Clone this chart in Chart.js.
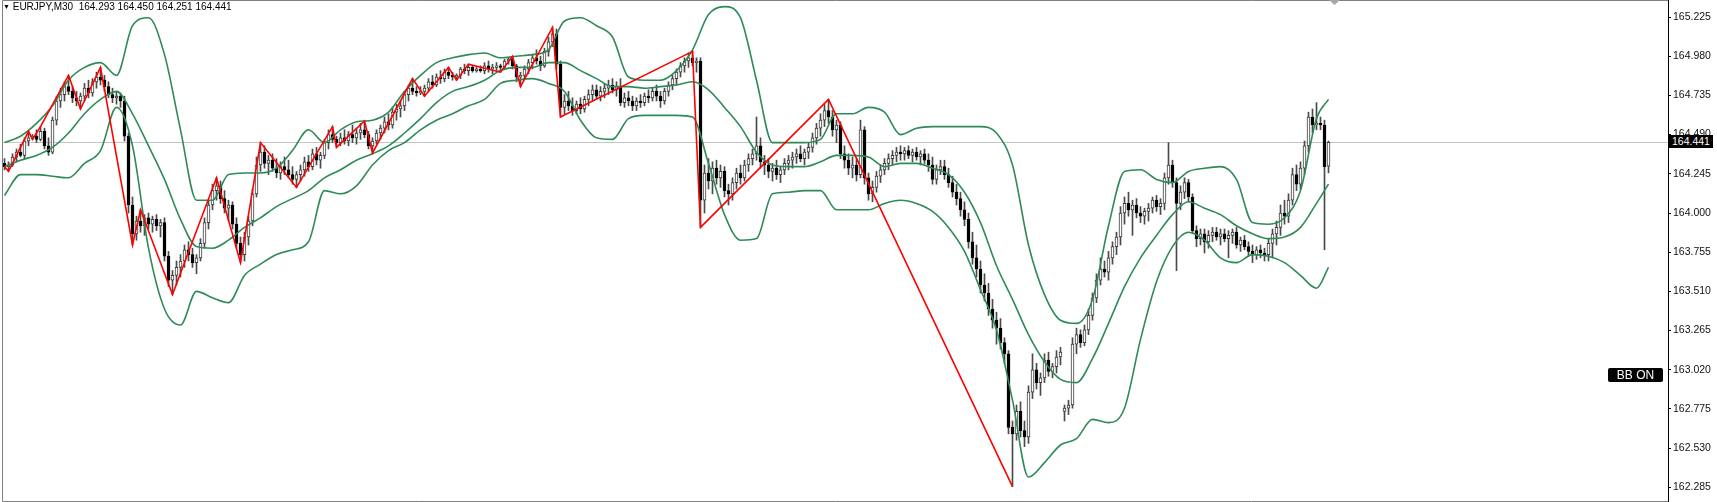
<!DOCTYPE html>
<html>
<head>
<meta charset="utf-8">
<title>EURJPY,M30</title>
<script src="https://cdn.jsdelivr.net/npm/chart.js@4.4.1/dist/chart.umd.min.js"></script>
<style>
  html, body { margin: 0; padding: 0; background: #fff; }
  #wrap { position: relative; width: 1717px; height: 502px; overflow: hidden; }
  #chart { display: block; }
  .title { position: absolute; left: 3px; top: 1px; font: 10px "Liberation Sans", Arial, sans-serif; color: #000; white-space: pre; }
  .title .tri { font-size: 7px; position: relative; top: -1px; }
  .tag { position: absolute; background: #000; color: #fff; font-family: "Liberation Sans", Arial, sans-serif; white-space: pre; }
  #bid { left: 1669px; top: 135px; width: 41px; height: 13px; line-height: 13px; padding-left: 3px; font-size: 10.5px; }
  #bb { left: 1608px; top: 368px; width: 55px; height: 14px; line-height: 14px; text-align: center; font-size: 12px; border-radius: 2px; }
</style>
</head>
<body>
<div id="wrap">
  <canvas id="chart" width="1717" height="502"></canvas>
  <div class="title"><span class="tri">▼</span> EURJPY,M30  164.293 164.450 164.251 164.441</div>
  <div id="bid" class="tag">164.441</div>
  <div id="bb" class="tag">BB ON</div>
</div>
<script>
const yTickLabels = ["165.225", "164.980", "164.735", "164.490", "164.245", "164.000", "163.755",
  "163.510", "163.265", "163.020", "162.775", "162.530", "162.285"];
const BID = 164.441;

// candles, one per M30 bar, oldest first
const opens = [
  164.31,164.29,164.30,164.35,164.38,164.36,164.45,164.47,164.48,164.46,
  164.51,164.42,164.38,164.58,164.70,164.74,164.79,164.76,164.72,164.70,
  164.73,164.78,164.75,164.82,164.85,164.83,164.79,164.74,164.72,164.73,
  164.70,164.48,164.05,163.87,163.95,163.92,163.97,163.93,163.96,163.92,
  163.94,163.73,163.58,163.61,163.66,163.70,163.77,163.74,163.69,163.72,
  163.81,163.94,164.05,164.14,164.17,164.09,164.03,164.05,163.93,163.81,
  163.74,163.85,163.95,164.12,164.30,164.38,164.31,164.33,164.28,164.25,
  164.29,164.27,164.24,164.21,164.24,164.27,164.32,164.29,164.37,164.33,
  164.36,164.44,164.49,164.46,164.44,164.47,164.45,164.49,164.47,164.50,
  164.52,164.49,164.42,164.45,164.50,164.53,164.57,164.55,164.63,164.65,
  164.67,164.74,164.78,164.76,164.75,164.76,164.78,164.82,164.80,164.85,
  164.84,164.88,164.86,164.85,164.86,164.90,164.89,164.91,164.89,164.90,
  164.89,164.92,164.90,164.91,164.92,164.91,164.95,164.96,164.92,164.85,
  164.86,164.90,164.94,164.97,164.95,164.92,165.01,165.07,165.12,164.93,
  164.66,164.70,164.67,164.64,164.68,164.65,164.71,164.74,164.77,164.73,
  164.76,164.78,164.80,164.77,164.79,164.69,164.72,164.70,164.67,164.70,
  164.69,164.73,164.72,164.76,164.73,164.70,164.76,164.80,164.84,164.88,
  164.92,164.95,164.97,164.94,164.95,164.08,164.25,164.20,164.28,164.22,
  164.26,164.14,164.12,164.19,164.25,164.22,164.30,164.34,164.37,164.42,
  164.32,164.30,164.26,164.28,164.24,164.27,164.31,164.33,164.35,164.37,
  164.34,164.38,164.41,164.47,164.53,164.58,164.64,164.60,164.52,164.55,
  164.37,164.33,164.28,164.30,164.24,164.52,164.22,164.12,164.16,164.23,
  164.27,164.31,164.34,164.36,164.38,164.37,164.39,164.36,164.38,164.35,
  164.37,164.33,164.30,164.21,164.27,164.29,164.24,164.19,164.13,164.09,
  164.02,163.96,163.82,163.72,163.65,163.55,163.50,163.40,163.33,163.28,
  163.19,163.12,162.66,162.62,162.76,162.64,162.60,162.88,163.02,162.94,
  162.97,163.08,163.01,163.04,163.10,162.76,162.78,162.80,163.18,163.24,
  163.19,163.27,163.36,163.47,163.58,163.65,163.63,163.72,163.79,163.85,
  164.00,164.06,164.02,164.05,164.00,163.98,164.01,164.03,164.08,164.04,
  164.06,164.22,164.30,164.19,164.06,164.13,164.19,164.10,163.89,163.84,
  163.87,163.82,163.86,163.88,163.85,163.87,163.84,163.86,163.88,163.80,
  163.83,163.79,163.76,163.74,163.77,163.75,163.74,163.81,163.87,163.91,
  164.00,163.98,164.08,164.24,164.18,164.28,164.42,164.60,164.55,164.56,
  164.55,164.293
];
const highs = [
  164.34,164.32,164.37,164.40,164.43,164.47,164.51,164.49,164.52,164.54,
  164.53,164.47,164.60,164.73,164.78,164.82,164.86,164.79,164.76,164.75,
  164.81,164.83,164.84,164.88,164.91,164.86,164.82,164.78,164.76,164.75,
  164.73,164.50,164.10,163.98,164.02,163.99,164.00,163.98,163.99,163.96,
  163.97,163.76,163.64,163.70,163.74,163.80,163.82,163.78,163.74,163.84,
  163.97,164.08,164.18,164.22,164.20,164.14,164.08,164.07,163.97,163.85,
  163.88,163.98,164.15,164.35,164.44,164.42,164.36,164.37,164.34,164.32,
  164.35,164.33,164.29,164.26,164.30,164.35,164.36,164.40,164.41,164.38,
  164.46,164.52,164.54,164.48,164.50,164.52,164.51,164.55,164.53,164.56,
  164.575,164.51,164.47,164.52,164.55,164.60,164.62,164.66,164.68,164.70,
  164.76,164.80,164.84,164.79,164.79,164.80,164.84,164.86,164.87,164.89,
  164.90,164.91,164.88,164.87,164.91,164.93,164.93,164.92,164.91,164.92,
  164.94,164.95,164.93,164.94,164.93,164.96,164.97,164.98,164.93,164.88,
  164.92,164.96,164.99,165.02,164.98,165.03,165.10,165.16,165.15,164.95,
  164.74,164.76,164.72,164.70,164.72,164.73,164.77,164.80,164.80,164.79,
  164.81,164.83,164.84,164.82,164.84,164.75,164.76,164.73,164.72,164.74,
  164.75,164.77,164.78,164.80,164.76,164.78,164.82,164.86,164.90,164.94,
  164.97,165.00,165.01,164.97,164.97,164.30,164.34,164.32,164.33,164.30,
  164.29,164.18,164.22,164.28,164.30,164.33,164.37,164.40,164.60,164.47,
  164.36,164.34,164.31,164.33,164.29,164.34,164.36,164.38,164.40,164.42,
  164.40,164.44,164.50,164.56,164.62,164.68,164.71,164.64,164.58,164.57,
  164.42,164.37,164.35,164.34,164.58,164.54,164.25,164.20,164.26,164.30,
  164.34,164.37,164.39,164.41,164.42,164.41,164.42,164.40,164.41,164.39,
  164.40,164.37,164.35,164.30,164.33,164.33,164.28,164.23,164.18,164.13,
  164.07,164.00,163.88,163.80,163.70,163.62,163.56,163.46,163.38,163.34,
  163.22,163.14,162.70,162.80,162.82,162.70,162.92,163.12,163.06,163.00,
  163.12,163.13,163.06,163.14,163.16,162.80,162.83,163.22,163.28,163.27,
  163.30,163.40,163.50,163.62,163.72,163.70,163.76,163.82,163.88,164.04,
  164.10,164.13,164.08,164.09,164.04,164.03,164.06,164.10,164.11,164.09,
  164.25,164.44,164.33,164.22,164.17,164.22,164.21,164.12,163.92,163.90,
  163.90,163.89,163.91,163.91,163.90,163.90,163.89,163.90,163.91,163.85,
  163.86,163.82,163.80,163.79,163.80,163.78,163.84,163.90,163.95,164.05,
  164.08,164.12,164.28,164.30,164.32,164.45,164.63,164.65,164.69,164.60,
  164.58,164.450
];
const lows = [
  164.27,164.26,164.29,164.32,164.35,164.34,164.42,164.46,164.44,164.45,
  164.40,164.36,164.37,164.55,164.66,164.70,164.74,164.69,164.67,164.65,
  164.70,164.72,164.73,164.78,164.80,164.76,164.72,164.69,164.68,164.66,
  164.45,164.00,163.80,163.83,163.88,163.86,163.90,163.88,163.89,163.85,
  163.70,163.54,163.49,163.55,163.60,163.66,163.70,163.66,163.62,163.70,
  163.78,163.90,164.02,164.08,164.06,164.00,163.95,163.90,163.78,163.69,
  163.70,163.80,163.92,164.10,164.26,164.28,164.24,164.26,164.22,164.21,
  164.24,164.22,164.18,164.16,164.20,164.23,164.26,164.27,164.30,164.28,
  164.34,164.40,164.44,164.41,164.42,164.43,164.42,164.44,164.43,164.46,
  164.47,164.40,164.375,164.43,164.46,164.50,164.52,164.53,164.58,164.60,
  164.64,164.70,164.74,164.73,164.74,164.73,164.76,164.78,164.79,164.81,
  164.82,164.84,164.83,164.83,164.84,164.87,164.86,164.88,164.88,164.88,
  164.87,164.88,164.87,164.89,164.88,164.90,164.93,164.90,164.82,164.79,
  164.84,164.87,164.90,164.93,164.89,164.91,164.98,165.04,164.90,164.60,
  164.62,164.64,164.61,164.62,164.62,164.63,164.67,164.70,164.71,164.70,
  164.72,164.74,164.75,164.73,164.67,164.66,164.67,164.64,164.64,164.66,
  164.67,164.69,164.70,164.70,164.66,164.68,164.73,164.77,164.80,164.85,
  164.88,164.91,164.92,164.88,163.91,164.00,164.15,164.12,164.18,164.16,
  164.10,164.05,164.08,164.15,164.18,164.20,164.26,164.30,164.33,164.28,
  164.24,164.22,164.20,164.21,164.19,164.24,164.27,164.28,164.31,164.32,
  164.30,164.34,164.38,164.43,164.48,164.54,164.56,164.48,164.44,164.34,
  164.28,164.24,164.22,164.20,164.22,164.18,164.08,164.07,164.13,164.19,
  164.24,164.27,164.30,164.32,164.33,164.33,164.34,164.32,164.33,164.30,
  164.31,164.26,164.18,164.18,164.24,164.21,164.16,164.10,164.05,163.98,
  163.92,163.78,163.68,163.60,163.50,163.45,163.36,163.28,163.18,163.15,
  163.06,162.62,162.29,162.58,162.60,162.54,162.56,162.84,162.90,162.86,
  162.94,162.98,162.97,163.00,163.05,162.70,162.74,162.78,163.12,163.16,
  163.17,163.24,163.33,163.44,163.55,163.60,163.58,163.68,163.74,163.80,
  163.93,163.98,163.86,163.97,163.94,163.93,163.95,164.00,164.01,163.99,
  164.02,164.18,164.16,163.64,164.02,164.09,164.07,163.87,163.79,163.80,
  163.75,163.78,163.82,163.83,163.80,163.82,163.72,163.81,163.78,163.76,
  163.77,163.73,163.69,163.71,163.72,163.70,163.70,163.72,163.80,163.86,
  163.93,163.94,164.05,164.14,164.15,164.24,164.38,164.50,164.52,164.52,
  163.77,164.251
];
const closes = [
  164.29,164.30,164.35,164.38,164.36,164.45,164.47,164.48,164.46,164.51,
  164.42,164.38,164.58,164.70,164.74,164.79,164.76,164.72,164.70,164.73,
  164.78,164.75,164.82,164.85,164.83,164.79,164.74,164.72,164.73,164.70,
  164.48,164.05,163.87,163.95,163.92,163.97,163.93,163.96,163.92,163.94,
  163.73,163.58,163.61,163.66,163.70,163.77,163.74,163.69,163.72,163.81,
  163.94,164.05,164.14,164.17,164.09,164.03,164.05,163.93,163.81,163.74,
  163.85,163.95,164.12,164.30,164.38,164.31,164.33,164.28,164.25,164.29,
  164.27,164.24,164.21,164.24,164.27,164.32,164.29,164.37,164.33,164.36,
  164.44,164.49,164.46,164.44,164.47,164.45,164.49,164.47,164.50,164.52,
  164.49,164.42,164.45,164.50,164.53,164.57,164.55,164.63,164.65,164.67,
  164.74,164.78,164.76,164.75,164.76,164.78,164.82,164.80,164.85,164.84,
  164.88,164.86,164.85,164.86,164.90,164.89,164.91,164.89,164.90,164.89,
  164.92,164.90,164.91,164.92,164.91,164.95,164.96,164.92,164.85,164.86,
  164.90,164.94,164.97,164.95,164.92,165.01,165.07,165.12,164.93,164.66,
  164.70,164.67,164.64,164.68,164.65,164.71,164.74,164.77,164.73,164.76,
  164.78,164.80,164.77,164.79,164.69,164.72,164.70,164.67,164.70,164.69,
  164.73,164.72,164.76,164.73,164.70,164.76,164.80,164.84,164.88,164.92,
  164.95,164.97,164.94,164.95,164.08,164.25,164.20,164.28,164.22,164.26,
  164.14,164.12,164.19,164.25,164.22,164.30,164.34,164.37,164.42,164.32,
  164.30,164.26,164.28,164.24,164.27,164.31,164.33,164.35,164.37,164.34,
  164.38,164.41,164.47,164.53,164.58,164.64,164.60,164.52,164.55,164.37,
  164.33,164.28,164.30,164.24,164.52,164.22,164.12,164.16,164.23,164.27,
  164.31,164.34,164.36,164.38,164.37,164.39,164.36,164.38,164.35,164.37,
  164.33,164.30,164.21,164.27,164.29,164.24,164.19,164.13,164.09,164.02,
  163.96,163.82,163.72,163.65,163.55,163.50,163.40,163.33,163.28,163.19,
  163.12,162.66,162.62,162.76,162.64,162.60,162.88,163.02,162.94,162.97,
  163.08,163.01,163.04,163.10,163.13,162.78,162.80,163.18,163.24,163.19,
  163.27,163.36,163.47,163.58,163.65,163.63,163.72,163.79,163.85,164.00,
  164.06,164.02,164.05,164.00,163.98,164.01,164.03,164.08,164.04,164.06,
  164.22,164.30,164.19,164.06,164.13,164.19,164.10,163.89,163.84,163.87,
  163.82,163.86,163.88,163.85,163.87,163.84,163.86,163.88,163.80,163.83,
  163.79,163.76,163.74,163.77,163.75,163.74,163.81,163.87,163.91,164.00,
  163.98,164.08,164.24,164.18,164.28,164.42,164.60,164.55,164.56,164.55,
  164.29,164.441
];

// Bollinger bands, read every 4th bar
const bandIdx = [
  0,4,8,12,16,20,24,28,32,36,40,44,48,52,56,60,64,68,72,76,80,84,88,92,96,100,
  104,108,112,116,120,124,128,132,136,140,144,148,152,156,160,164,168,172,176,180,
  184,188,192,196,200,204,208,212,216,220,224,228,232,236,240,244,248,252,256,260,
  264,268,272,276,280,284,288,292,296,300,304,308,312,316,320,324,328,331
];
const bandUpper = [
  164.44,164.48,164.56,164.67,164.83,164.91,164.94,164.86,165.17,165.22,
  164.99,164.52,164.08,164.08,164.24,164.25,164.25,164.28,164.39,164.52,
  164.44,164.52,164.57,164.58,164.63,164.76,164.86,164.94,164.97,164.99,
  165.00,164.97,164.98,164.99,165.02,165.20,165.22,165.17,165.10,164.85,
  164.83,164.83,164.89,165.02,165.24,165.29,165.22,164.83,164.44,164.44,
  164.44,164.46,164.62,164.62,164.66,164.63,164.49,164.53,164.54,164.54,
  164.54,164.54,164.50,164.30,163.80,163.49,163.33,163.31,163.46,163.92,
  164.26,164.27,164.21,164.19,164.26,164.28,164.29,164.21,163.94,163.93,
  163.97,164.14,164.59,164.71
];
const bandMiddle = [
  164.29,164.33,164.36,164.41,164.50,164.62,164.71,164.76,164.62,164.42,
  164.21,163.96,163.79,163.78,163.83,163.91,163.97,164.04,164.09,164.14,
  164.22,164.27,164.33,164.37,164.42,164.50,164.59,164.69,164.76,164.79,
  164.83,164.89,164.91,164.91,164.94,164.94,164.89,164.84,164.79,164.79,
  164.78,164.79,164.80,164.82,164.77,164.66,164.54,164.38,164.30,164.29,
  164.29,164.32,164.36,164.36,164.35,164.29,164.31,164.31,164.28,164.24,
  164.13,163.94,163.67,163.46,163.24,163.07,162.96,162.94,163.09,163.31,
  163.54,163.72,163.86,163.99,164.07,164.03,163.99,163.92,163.87,163.84,
  163.85,163.91,164.06,164.18
];
const bandLower = [
  164.11,164.24,164.24,164.23,164.22,164.31,164.39,164.66,164.42,163.78,
  163.40,163.30,163.51,163.47,163.44,163.61,163.68,163.74,163.77,163.82,
  164.14,164.12,164.17,164.30,164.39,164.44,164.52,164.58,164.62,164.67,
  164.71,164.81,164.83,164.84,164.81,164.76,164.58,164.47,164.46,164.59,
  164.61,164.61,164.61,164.60,164.31,163.99,163.83,163.84,164.12,164.13,
  164.14,164.14,164.02,164.02,164.02,164.06,164.08,164.06,164.01,163.91,
  163.76,163.52,163.27,162.83,162.35,162.44,162.55,162.59,162.71,162.69,
  162.78,163.21,163.57,163.79,163.88,163.83,163.72,163.69,163.74,163.73,
  163.69,163.61,163.53,163.66
];

// ZigZag swing points
const zigIdx = [0,1,6,7,9,16,19,24,32,34,42,53,59,64,73,82,83,90,92,99,
  102,105,111,113,116,124,127,129,137,139,172,174,206,252];
const zigPrice = [164.29,164.26,164.51,164.46,164.54,164.86,164.65,164.91,163.80,164.02,
  163.49,164.22,163.69,164.44,164.16,164.54,164.41,164.575,164.375,164.70,
  164.84,164.73,164.91,164.83,164.93,164.88,164.98,164.79,165.16,164.60,
  165.01,163.91,164.71,162.29];

const Y_MIN = 162.19375;
const Y_MAX = 165.33125;
const X_MIN = -0.625;
const X_MAX = 415.875;

const BAND_GREEN = "#2e8b57";

function points(idx, vals) {
  return idx.map((x, k) => ({ x, y: vals[k] }));
}

function isBull(i) {
  return closes[i] >= opens[i];
}

const frame = {
  id: "frame",
  beforeDatasetsDraw(chart) {
    const { ctx, chartArea: a } = chart;
    const py = Math.round(chart.scales.y.getPixelForValue(BID)) + 0.5;
    ctx.save();
    ctx.strokeStyle = "#c4c4c4";
    ctx.lineWidth = 1;
    ctx.beginPath();
    ctx.moveTo(a.left, py);
    ctx.lineTo(a.right, py);
    ctx.stroke();
    ctx.restore();
  },
  afterDraw(chart) {
    const { ctx, chartArea: a } = chart;
    ctx.save();
    ctx.strokeStyle = "#808080";
    ctx.lineWidth = 1;
    ctx.beginPath();
    ctx.moveTo(a.right, 0.5);
    ctx.lineTo(a.left + 0.5, 0.5);
    ctx.lineTo(a.left + 0.5, a.bottom - 0.5);
    ctx.lineTo(a.right, a.bottom - 0.5);
    ctx.stroke();
    // chart shift marker
    ctx.fillStyle = "#a8a8a8";
    ctx.beginPath();
    ctx.moveTo(1329, 0);
    ctx.lineTo(1340, 0);
    ctx.lineTo(1334.5, 5);
    ctx.closePath();
    ctx.fill();
    ctx.restore();
  },
};

const bars = opens.map((_, i) => i);

new Chart(document.getElementById("chart"), {
  type: "bar",
  data: {
    datasets: [
      {
        type: "line", label: "ZigZag", data: points(zigIdx, zigPrice),
        borderColor: "#ff0000", borderWidth: 1.6, pointRadius: 0, tension: 0, order: 1,
      },
      {
        type: "line", label: "BB upper", data: points(bandIdx, bandUpper),
        borderColor: BAND_GREEN, borderWidth: 1.6, pointRadius: 0, cubicInterpolationMode: "monotone", order: 2,
      },
      {
        type: "line", label: "BB middle", data: points(bandIdx, bandMiddle),
        borderColor: BAND_GREEN, borderWidth: 1.6, pointRadius: 0, cubicInterpolationMode: "monotone", order: 2,
      },
      {
        type: "line", label: "BB lower", data: points(bandIdx, bandLower),
        borderColor: BAND_GREEN, borderWidth: 1.6, pointRadius: 0, cubicInterpolationMode: "monotone", order: 2,
      },
      {
        type: "bar", label: "body", data: bars.map((i) => ({ x: i, y: [opens[i], closes[i]] })),
        barThickness: 3, grouped: false, borderWidth: 1, borderSkipped: false,
        backgroundColor: (c) => (isBull(c.dataIndex) ? "#ffffff" : "#000000"),
        borderColor: (c) => (isBull(c.dataIndex) ? "#3a3a3a" : "#000000"),
        order: 4,
      },
      {
        type: "bar", label: "wick", data: bars.map((i) => ({ x: i, y: [lows[i], highs[i]] })),
        barThickness: 1, grouped: false, borderWidth: 0, backgroundColor: "#4a4a4a", order: 5,
      },
    ],
  },
  options: {
    responsive: false,
    animation: false,
    events: [],
    layout: { padding: { left: 2, top: 0, right: 0, bottom: 0 } },
    plugins: { legend: { display: false }, tooltip: { enabled: false } },
    scales: {
      x: { type: "linear", min: X_MIN, max: X_MAX, offset: false, display: false },
      y: {
        type: "linear", position: "right", min: Y_MIN, max: Y_MAX,
        afterFit: (s) => { s.width = 49; s.paddingTop = 0; s.paddingBottom = 0; },
        afterBuildTicks: (s) => { s.ticks = yTickLabels.map((t) => ({ value: parseFloat(t) })); },
        ticks: {
          autoSkip: false, padding: 2, color: "#111",
          font: { family: "Liberation Sans", size: 10.5 },
          callback: (v) => v.toFixed(3),
        },
        grid: { drawOnChartArea: false, drawTicks: true, tickLength: 3, color: "#000" },
        border: { display: true, color: "#000" },
      },
    },
  },
  plugins: [frame],
});
</script>
</body>
</html>
